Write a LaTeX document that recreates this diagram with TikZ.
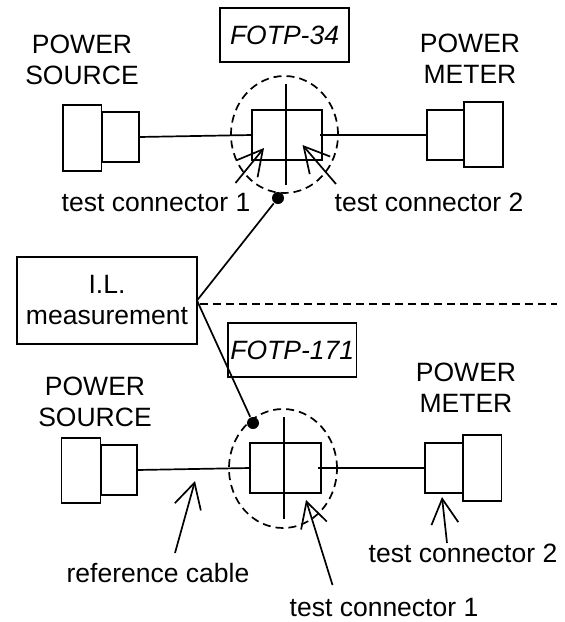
\documentclass[tikz,border=0pt]{standalone}
\usepackage{fontspec}
\setmainfont{Liberation Sans}
\usetikzlibrary{arrows.meta}
\usetikzlibrary{shapes.geometric}
\tikzset{
x=1pt, y=-1pt, % one unit is one pixel of the layout, y runs downwards
every picture/.style={line width=1.7pt},
every node/.style={font=\fontsize{26.5}{31}\selectfont, align=center},
part/.style={draw, inner sep=0pt, outer sep=0pt}, % sets the properties for the connector bodies
tag/.style={part, font=\fontsize{26.5}{31}\selectfont\itshape},
joint/.style={draw, dashed, dash pattern=on 8pt off 5pt, ellipse, inner sep=0pt, outer sep=0pt},
probe/.style={circle, fill=black, inner sep=0pt, minimum size=12pt},
pointer/.style={-{Straight Barb[length=25pt,width=27pt,line width=1.7pt]}},
}

\begin{document}
\begin{tikzpicture}
            \useasboundingbox (0,0) rectangle (565,622);

            % upper set-up
            \node[tag, minimum width=129pt, minimum height=54pt] (fotpa) at (284.5,35) {FOTP-34};
            \node (srca) at (82,60) {POWER\\SOURCE};
            \node (mtra) at (470,59) {POWER\\METER};
            \node[part, minimum width=38.5pt, minimum height=66pt] (srcbiga) at (82.2,138) {};
            \node[part, minimum width=37pt, minimum height=50pt] (srcsmla) at (120.5,137) {};
            \node[part, minimum width=70pt, minimum height=50pt] (sqa) at (287,135) {};
            \node[part, minimum width=37pt, minimum height=50pt] (mtrsmla) at (445.5,135) {};
            \node[part, minimum width=39pt, minimum height=65pt] (mtrbiga) at (483.5,134.5) {};
            \node[joint, minimum width=107pt, minimum height=117pt] (ringa) at (284.5,134.5) {};
            \node[probe] (dota) at (278,198) {};
            \node (tca) at (156,203) {test connector 1};
            \node (tcb) at (429,202) {test connector 2};

            \coordinate (cuta) at (286,84);
            \coordinate (cutb) at (286,185);
            \coordinate (taila) at (235.5,183);
            \coordinate (tipa) at (264,148);
            \coordinate (tailb) at (336,184);
            \coordinate (tipb) at (302.5,145);

            \draw (srcsmla.east) -- (sqa.west);
            \draw ([xshift=-2pt]sqa.east) -- (mtrsmla.west);
            \draw (cuta) -- (cutb);
            \draw[pointer] (taila) -- (tipa);
            \draw[pointer] (tailb) -- (tipb);

            % measurement box in between
            \node[part, minimum width=180pt, minimum height=87pt] (il) at (107,300.5) {I.L.\\measurement};
            \coordinate (sepa) at (200,304);
            \coordinate (sepb) at (557,304);
            \draw[dashed, dash pattern=on 8pt off 5pt] (sepa) -- (sepb);

            % lower set-up
            \node[tag, minimum width=128.5pt, minimum height=54pt, fill=white] (fotpb) at (292.2,350) {FOTP-171};
            \node (srcb) at (95,401.5) {POWER\\SOURCE};
            \node (mtrb) at (466,388) {POWER\\METER};
            \node[part, minimum width=39pt, minimum height=65pt] (srcbigb) at (81,470.5) {};
            \node[part, minimum width=36pt, minimum height=50pt] (srcsmlb) at (119,470) {};
            \node[part, minimum width=71pt, minimum height=50pt] (sqb) at (285.5,468) {};
            \node[part, minimum width=38pt, minimum height=50pt] (mtrsmlb) at (444,468) {};
            \node[part, minimum width=38.5pt, minimum height=66pt] (mtrbigb) at (482.2,468) {};
            \node[joint, minimum width=108pt, minimum height=119pt] (ringb) at (283,468.5) {};
            \node[probe] (dotb) at (253,423) {};
            \node (rc) at (158,573) {reference cable};
            \node (tcc) at (384,608) {test connector 1};
            \node (tcd) at (463,553) {test connector 2};

            \coordinate (cutc) at (284,417);
            \coordinate (cutd) at (284,519);
            \coordinate (tailc) at (175,553);
            \coordinate (tipc) at (195,481);
            \coordinate (taild) at (332.5,585);
            \coordinate (tipd) at (306,500);
            \coordinate (taile) at (447,543);
            \coordinate (tipe) at (442,497);

            \draw (srcsmlb.east) -- (sqb.west);
            \draw ([xshift=-3pt]sqb.east) -- (mtrsmlb.west);
            \draw (cutc) -- (cutd);
            \draw[pointer] (tailc) -- (tipc);
            \draw[pointer] (taild) -- (tipd);
            \draw[pointer] (taile) -- (tipe);

            % leads to both joints
            \draw (il.east) -- (dota);
            \draw (il.east) -- (dotb);
\end{tikzpicture}
\end{document}
